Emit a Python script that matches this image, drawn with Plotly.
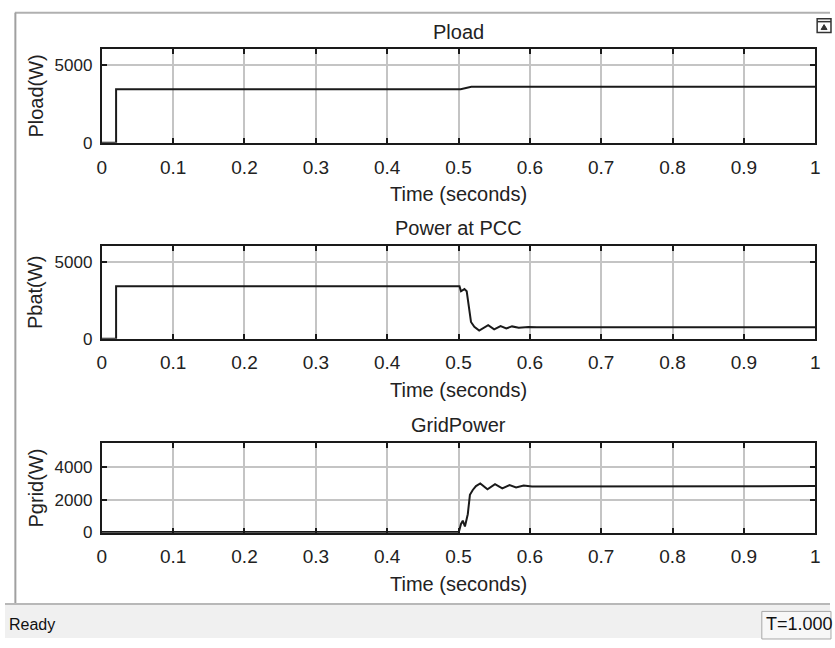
import plotly.graph_objects as go

# ---- simulation traces (W vs s) ----
t_load = [0.0, 0.02, 0.02, 0.503, 0.518, 1.0]
p_load = [0, 0, 3440, 3440, 3590, 3590]

t_bat = [0.0, 0.02, 0.02, 0.5014, 0.5035, 0.5083, 0.5115, 0.5152, 0.5175, 0.5222,
         0.529, 0.5416, 0.55, 0.559, 0.567, 0.575, 0.5845, 0.598, 0.61, 1.0]
p_bat = [0, 0, 3400, 3400, 3074, 3219, 3074, 1925, 1085, 772,
         521, 878, 608, 816, 670, 797, 709, 753, 740, 740]

t_grid = [0.0, 0.5005, 0.5035, 0.506, 0.509, 0.513, 0.516, 0.52, 0.5245, 0.5305,
          0.5406, 0.5512, 0.5614, 0.5716, 0.5807, 0.5914, 0.603, 1.0]
p_grid = [0, 0, 500, 700, 340, 1100, 2300, 2600, 2840, 3000,
          2640, 2960, 2700, 2900, 2760, 2880, 2820, 2840]

panel_titles = ["Pload", "Power at PCC", "GridPower"]
y_titles = ["Pload(W)", "Pbat(W)", "Pgrid(W)"]
x_title = "Time (seconds)"
y_ranges = [[0, 6000], [0, 6000], [-40, 5500]]
y_ticks = [[0, 5000], [0, 5000], [0, 2000, 4000]]
status_text = "Ready"
time_text = "T=1.000"

W, H = 835, 648
FONT = "Liberation Sans, Arial, sans-serif"
INK = "#1a1a1a"

def px(x):
    return x / W

def py(y):
    return 1 - y / H

# pixel boxes of the three scopes (top, bottom)
left, right = 98, 820
boxes = [(50, 145), (250, 344), (450, 541)]

fig = go.Figure()
series = [(t_load, p_load), (t_bat, p_bat), (t_grid, p_grid)]
for i, (tx, ty) in enumerate(series):
    sfx = "" if i == 0 else str(i + 1)
    fig.add_trace(go.Scatter(x=tx, y=ty, mode="lines",
                             line=dict(color=INK, width=2),
                             xaxis="x" + sfx, yaxis="y" + sfx,
                             showlegend=False, hoverinfo="skip"))

layout = dict(width=W, height=H, margin=dict(l=0, r=0, t=0, b=0),
              paper_bgcolor="white", plot_bgcolor="white",
              font=dict(family=FONT, color="#222222"))

for i, (top, bot) in enumerate(boxes):
    sfx = "" if i == 0 else str(i + 1)
    layout["xaxis" + sfx] = dict(
        domain=[px(left), px(right)], range=[0, 1], dtick=0.1, tick0=0,
        anchor="y" + sfx, showgrid=True, gridcolor="#c4c4c4", gridwidth=1.5,
        zeroline=False, showline=True, linecolor=INK, linewidth=2,
        mirror="ticks", ticks="inside", ticklen=5, tickwidth=1.5, tickcolor=INK,
        tickfont=dict(size=19, family=FONT, color="#222222"),
        ticklabelstandoff=6, fixedrange=True)
    layout["yaxis" + sfx] = dict(
        domain=[py(bot), py(top)], range=y_ranges[i], tickvals=y_ticks[i],
        anchor="x" + sfx, showgrid=True, gridcolor="#c4c4c4", gridwidth=1.5,
        zeroline=False, showline=True, linecolor=INK, linewidth=2,
        mirror="ticks", ticks="inside", ticklen=5, tickwidth=1.5, tickcolor=INK,
        tickfont=dict(size=17, family=FONT, color="#222222"),
        ticklabelstandoff=4, fixedrange=True)

fig.update_layout(**layout)

ann = []
cx = px((left + right) / 2)
for i, (top, bot) in enumerate(boxes):
    ann.append(dict(text=panel_titles[i], x=cx, y=py(top - 18), xref="paper", yref="paper",
                    xanchor="center", yanchor="middle", showarrow=False,
                    font=dict(size=20, family=FONT, color="#222222")))
    ann.append(dict(text=x_title, x=cx, y=py(bot + 52), xref="paper", yref="paper",
                    xanchor="center", yanchor="middle", showarrow=False,
                    font=dict(size=20, family=FONT, color="#222222")))
    ann.append(dict(text=y_titles[i], x=px(31), y=py((top + bot) / 2), xref="paper",
                    yref="paper", xanchor="center", yanchor="middle", textangle=-90,
                    showarrow=False, font=dict(size=20, family=FONT, color="#222222")))

# status bar texts
ann.append(dict(text=status_text, x=px(2), y=py(634), xref="paper", yref="paper",
                xanchor="left", yanchor="middle", showarrow=False,
                font=dict(size=16, family=FONT, color="#111111")))
ann.append(dict(text=time_text, x=px(768), y=py(634), xref="paper", yref="paper",
                xanchor="left", yanchor="middle", showarrow=False,
                font=dict(size=18, family=FONT, color="#111111")))
fig.update_layout(annotations=ann)

shapes = [
    # window frame lines
    dict(type="line", xref="paper", yref="paper", x0=px(10), x1=1, y0=py(13), y1=py(13),
         line=dict(color="#b0b0b0", width=2)),
    dict(type="line", xref="paper", yref="paper", x0=px(10.5), x1=px(10.5), y0=py(13), y1=py(613),
         line=dict(color="#a0a0a0", width=2)),
    # status bar
    dict(type="rect", xref="paper", yref="paper", x0=0, x1=1, y0=0, y1=py(614),
         fillcolor="#f0f0f0", line=dict(width=0), layer="below"),
    dict(type="line", xref="paper", yref="paper", x0=0, x1=1, y0=py(613.5), y1=py(613.5),
         line=dict(color="#b8b8b8", width=2)),
    dict(type="rect", xref="paper", yref="paper", x0=px(766), x1=px(836), y0=py(649), y1=py(621),
         fillcolor="#f7f7f7", line=dict(color="#a8a8a8", width=1)),
    # undock button
    dict(type="rect", xref="paper", yref="paper", x0=px(822), x1=px(836), y0=py(33), y1=py(19),
         fillcolor="white", line=dict(color="#333333", width=1.5)),
    dict(type="line", xref="paper", yref="paper", x0=px(822), x1=px(836), y0=py(22), y1=py(22),
         line=dict(color="#333333", width=1.5)),
    dict(type="path", xref="paper", yref="paper",
         path=f"M {px(826)},{py(30)} L {px(829)},{py(25)} L {px(832)},{py(30)} Z",
         fillcolor="#333333", line=dict(color="#333333", width=1)),
]
fig.update_layout(shapes=shapes)

fig.write_html("out.html")
